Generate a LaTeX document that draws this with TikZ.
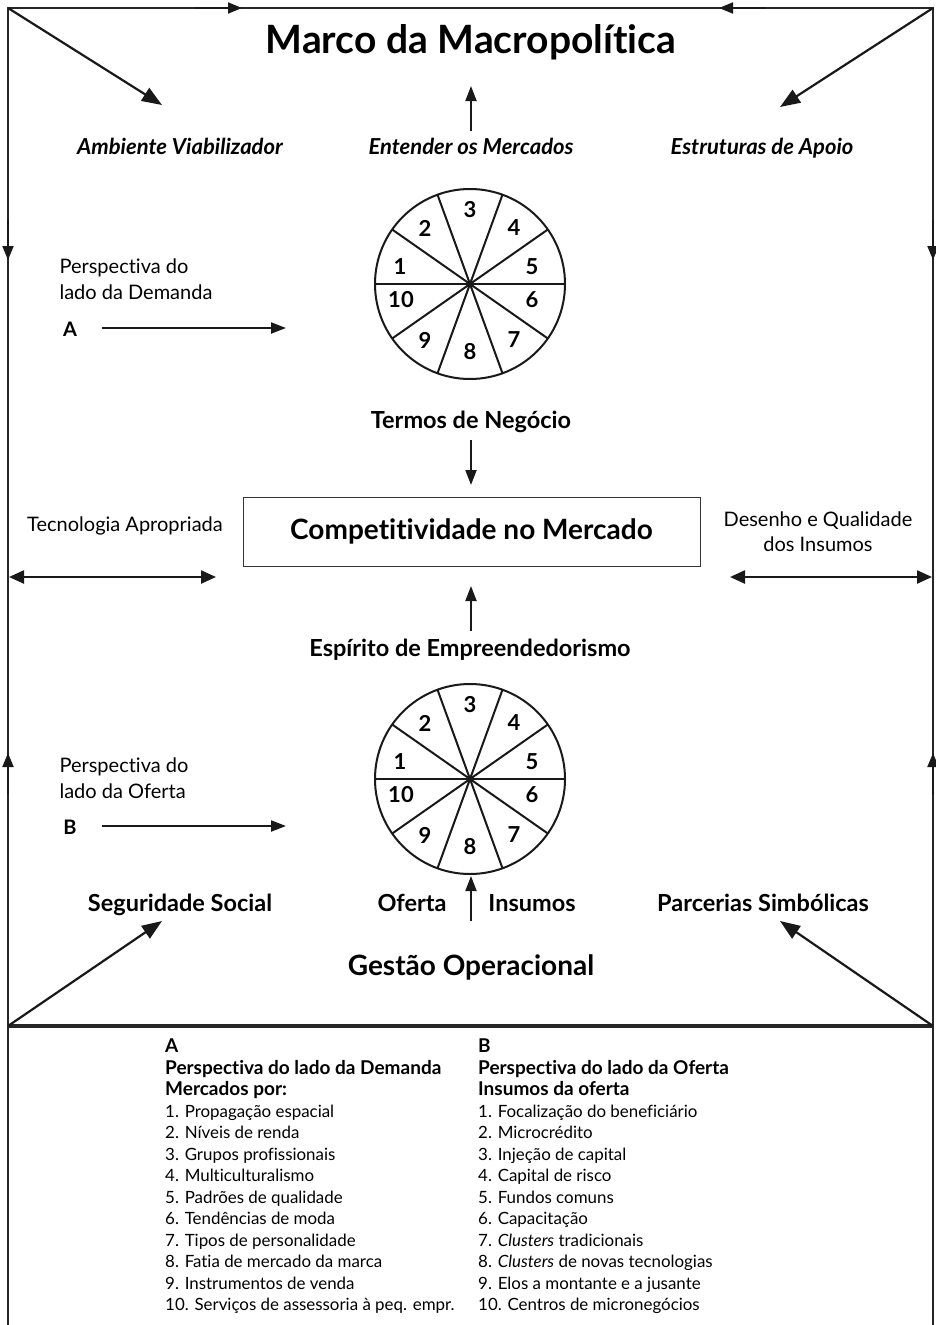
\documentclass[tikz,border=0pt]{standalone}
\usepackage{fontspec}
\setmainfont{Lato}[Ligatures=NoCommon]
\usetikzlibrary{arrows.meta}
\newcommand\mywheel[3]{%
  \coordinate (#1) at (#2,#3);
  \draw[wheelline] (#1) circle[radius=95pt];
  \foreach \a in {0,35,70,110,145,180,215,250,290,325}
    \draw[wheelline] (#1) -- ++(\a:95pt);
  \foreach \n/\dx/\dy in {3/0/-74,2/-45/-56,4/44/-56,1/-70/-17,5/62/-17,10/-69/16,6/62/16,9/-45/56,7/44/56,8/0/68}
    \node[num] (#1-\n) at ([shift={(\dx,\dy)}]#1) {\n};
}
\newcommand\lb[1]{{\fontsize{19}{21.5}\selectfont\bfseries #1}}
\begin{document}
\begin{tikzpicture}[x=1pt,y=-1pt,
  frameline/.style={line width=1.6pt,draw=black!85},
  wheelline/.style={line width=2pt,draw=black!90},
  arr/.style={line width=2pt,draw=black!90,-{Triangle[length=15pt,width=11pt]}},
  bigarr/.style={line width=2.2pt,draw=black!90,-{Triangle[length=20pt,width=15pt]}},
  dblarr/.style={line width=2.4pt,draw=black!90,{Triangle[length=15pt,width=13pt]}-{Triangle[length=15pt,width=13pt]}},
  edgearr/.style={line width=2pt,draw=black!90,-{Triangle[length=14pt,width=11pt]}},
  num/.style={font=\fontsize{22}{26}\selectfont\bfseries},
  lbl/.style={font=\fontsize{23.5}{27}\selectfont\bfseries,text height=0.75em,text depth=0.22em,yshift=-5pt},
  ilbl/.style={font=\fontsize{22}{26}\selectfont\bfseries\itshape,text height=0.75em,text depth=0.22em,yshift=-5pt},
  rlbl/.style={font=\fontsize{20}{26}\selectfont,align=left},
  leg/.style={font=\fontsize{16.9}{21.5}\selectfont,align=left,anchor=north west,inner sep=0pt},
]
\useasboundingbox (0,0) rectangle (936,1325);
% frame
\coordinate (tl) at (8,8);
\coordinate (tr) at (933,8);
\coordinate (bl) at (8,1325);
\coordinate (br) at (933,1325);
\coordinate (ml) at (8,1026);
\coordinate (mr) at (933,1026);
\draw[frameline] (bl) -- (tl) -- (tr) -- (br);
\draw[line width=4pt,draw=black!85] (ml) -- (mr);
% arrows on frame
\coordinate (t1s) at (195,8); \coordinate (t1e) at (242,8);
\coordinate (t2s) at (766,8); \coordinate (t2e) at (719,8);
\draw[edgearr] (t1s) -- (t1e);
\draw[edgearr] (t2s) -- (t2e);
\coordinate (l1s) at (8,220); \coordinate (l1e) at (8,260);
\coordinate (r1s) at (933,220); \coordinate (r1e) at (933,260);
\coordinate (l2s) at (8,795); \coordinate (l2e) at (8,753);
\coordinate (r2s) at (933,795); \coordinate (r2e) at (933,753);
\draw[edgearr] (l1s) -- (l1e);
\draw[edgearr] (r1s) -- (r1e);
\draw[edgearr] (l2s) -- (l2e);
\draw[edgearr] (r2s) -- (r2e);
% title
\node[font=\fontsize{39}{44}\selectfont\bfseries] (title) at (471,42) {Marco da Macropolítica};
% corner diagonals
\coordinate (d1) at (162,105);
\coordinate (d2) at (780,107);
\coordinate (d3) at (162,921);
\coordinate (d4) at (780,921);
\draw[bigarr] (tl) -- (d1);
\draw[bigarr] (tr) -- (d2);
\draw[bigarr] (ml) -- (d3);
\draw[bigarr] (mr) -- (d4);
% upper labels
\node[ilbl] (amb) at (180,147) {Ambiente Viabilizador};
\node[ilbl] (ent) at (471,147) {Entender os Mercados};
\node[ilbl] (est) at (762,147) {Estruturas de Apoio};
\coordinate (u1s) at (471,131); \coordinate (u1e) at (471,86);
\draw[arr] (u1s) -- (u1e);
% wheel 1
\mywheel{wa}{470}{284}
\node[rlbl,anchor=west] (pdem) at (56,279) {Perspectiva do\\lado da Demanda};
\node[font=\fontsize{20}{24}\selectfont\bfseries] (la) at (70,329) {A};
\coordinate (a1s) at (102,328); \coordinate (a1e) at (286,328);
\draw[arr] (a1s) -- (a1e);
\node[lbl] (termos) at (471,421) {Termos de Negócio};
\coordinate (dns) at (471,440); \coordinate (dne) at (471,485);
\draw[arr] (dns) -- (dne);
% box
\node[draw=black!80,line width=1pt,minimum width=457pt,minimum height=69pt,font=\fontsize{28}{32}\selectfont\bfseries] (comp) at (471.5,531.5) {Competitividade no Mercado};
\node[font=\fontsize{20}{24}\selectfont] (tec) at (125,526) {Tecnologia Apropriada};
\node[font=\fontsize{20}{25}\selectfont,align=center] (des) at (818,532) {Desenho e Qualidade\\dos Insumos};
\coordinate (h1s) at (9,577); \coordinate (h1e) at (216,577);
\coordinate (h2s) at (730,577); \coordinate (h2e) at (932,577);
\draw[dblarr] (h1s) -- (h1e);
\draw[dblarr] (h2s) -- (h2e);
\coordinate (u2s) at (471,631); \coordinate (u2e) at (471,586);
\draw[arr] (u2s) -- (u2e);
\node[lbl] (esp) at (470,649) {Espírito de Empreendedorismo};
% wheel 2
\mywheel{wb}{470}{779}
\node[rlbl,anchor=west] (pofe) at (56,778) {Perspectiva do\\lado da Oferta};
\node[font=\fontsize{20}{24}\selectfont\bfseries] (lb) at (70,827) {B};
\coordinate (b1s) at (102,826); \coordinate (b1e) at (286,826);
\draw[arr] (b1s) -- (b1e);
% lower labels
\node[lbl] (seg) at (180,904) {Seguridade Social};
\node[lbl] (ofe) at (412,904) {Oferta};
\node[lbl] (ins) at (532,904) {Insumos};
\node[lbl] (par) at (763,904) {Parcerias Simbólicas};
\coordinate (u3s) at (471,921); \coordinate (u3e) at (471,876);
\draw[arr] (u3s) -- (u3e);
\node[font=\fontsize{28}{32}\selectfont\bfseries] (gest) at (471,967) {Gestão Operacional};
% legend
\node[leg] (lega) at (165,1039) {\lb{A}\\
\lb{Perspectiva do lado da Demanda}\\
\lb{Mercados por:}\\
1. Propagação espacial\\
2. Níveis de renda\\
3. Grupos profissionais\\
4. Multiculturalismo\\
5. Padrões de qualidade\\
6. Tendências de moda\\
7. Tipos de personalidade\\
8. Fatia de mercado da marca\\
9. Instrumentos de venda\\
10. Serviços de assessoria à peq. empr.};
\node[leg] (legb) at (478,1039) {\lb{B}\\
\lb{Perspectiva do lado da Oferta}\\
\lb{Insumos da oferta}\\
1. Focalização do beneficiário\\
2. Microcrédito\\
3. Injeção de capital\\
4. Capital de risco\\
5. Fundos comuns\\
6. Capacitação\\
7. \textit{Clusters} tradicionais\\
8. \textit{Clusters} de novas tecnologias\\
9. Elos a montante e a jusante\\
10. Centros de micronegócios};
\end{tikzpicture}
\end{document}
